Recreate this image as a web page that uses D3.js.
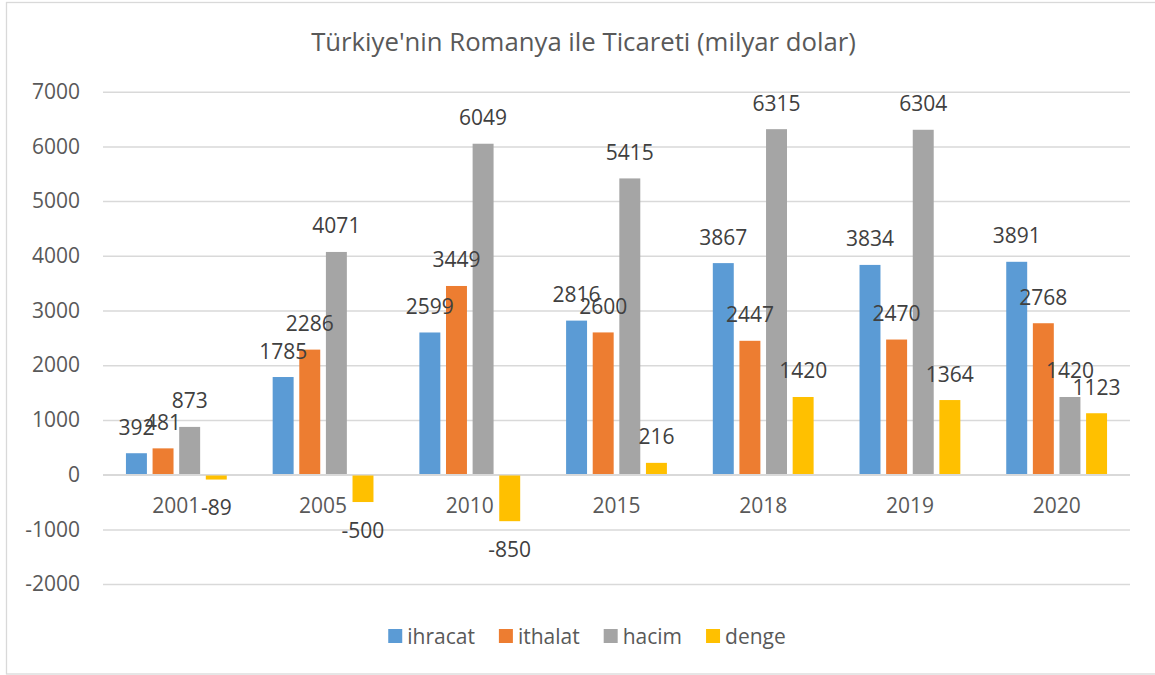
<!DOCTYPE html>
<html>
<head>
<meta charset="utf-8">
<script src="https://cdn.jsdelivr.net/npm/d3@7"></script>
<style>
  html, body { margin: 0; padding: 0; background: #fff; }
  svg { display: block; font-family: "Open Sans", sans-serif; }
</style>
</head>
<body>
<svg id="chart" width="1155" height="675"></svg>
<script>
const title = "Türkiye'nin Romanya ile Ticareti (milyar dolar)";
const categories = ["2001", "2005", "2010", "2015", "2018", "2019", "2020"];
const seriesNames = ["ihracat", "ithalat", "hacim", "denge"];
const ihracat = [392, 1785, 2599, 2816, 3867, 3834, 3891];
const ithalat = [481, 2286, 3449, 2600, 2447, 2470, 2768];
const hacim   = [873, 4071, 6049, 5415, 6315, 6304, 1420];
const denge   = [-89, -500, -850, 216, 1420, 1364, 1123];
const yTicks  = [-2000, -1000, 0, 1000, 2000, 3000, 4000, 5000, 6000, 7000];

const seriesValues = [ihracat, ithalat, hacim, denge];
const colors = ["#5B9BD5", "#ED7D31", "#A5A5A5", "#FFC000"];

const svg = d3.select("#chart");
const W = 1155, H = 675;
const plot = { left: 103, right: 1130, top: 91.7, bottom: 584.1 };
const fontSize = 21;

// chart border
svg.append("rect")
  .attr("x", 6.5).attr("y", 2.5)
  .attr("width", W + 10).attr("height", 671.5)
  .attr("fill", "#fff").attr("stroke", "#d9d9d9").attr("stroke-width", 1.3);

const y = d3.scaleLinear().domain([-2000, 7000]).range([plot.bottom, plot.top]);
const x0 = d3.scaleBand().domain(categories).range([plot.left, plot.right]).paddingInner(0).paddingOuter(0);

const gapWidth = 2.19, overlap = -0.27;
const bw = x0.bandwidth();
const barW = bw / (seriesNames.length - (seriesNames.length - 1) * overlap + gapWidth);
const innerP = -overlap / (1 - overlap);
const innerRange = barW * (1 - overlap) * (seriesNames.length - innerP);
const x1 = d3.scaleBand().domain(seriesNames)
  .range([(bw - innerRange) / 2, (bw + innerRange) / 2])
  .paddingInner(innerP).paddingOuter(0);

// y axis with gridlines
const yAxis = svg.append("g")
  .attr("transform", `translate(${plot.left},0)`)
  .call(d3.axisLeft(y).tickValues(yTicks).tickFormat(d => String(d))
    .tickSize(-(plot.right - plot.left)).tickPadding(23));
yAxis.select(".domain").remove();
yAxis.selectAll(".tick line").attr("stroke", "#d9d9d9").attr("stroke-width", 1.5);
yAxis.selectAll(".tick text")
  .attr("fill", "#595959").style("font-size", fontSize + "px")
  .style("font-family", "'Open Sans', sans-serif");

// bars
const data = [];
categories.forEach((c, i) => {
  seriesNames.forEach((s, j) => data.push({ cat: c, series: s, value: seriesValues[j][i], color: colors[j] }));
});

const barsG = svg.append("g");
barsG.selectAll("rect").data(data).enter().append("rect")
  .attr("x", d => x0(d.cat) + x1(d.series))
  .attr("width", x1.bandwidth())
  .attr("y", d => Math.min(y(d.value), y(0)))
  .attr("height", d => Math.abs(y(d.value) - y(0)))
  .attr("fill", d => d.color);

// x axis labels
const xAxis = svg.append("g")
  .attr("transform", `translate(0,${y(0)})`)
  .call(d3.axisBottom(x0).tickSize(0).tickPadding(23.6));
xAxis.select(".domain").remove();
xAxis.selectAll(".tick text")
  .attr("fill", "#595959").style("font-size", fontSize + "px")
  .style("font-family", "'Open Sans', sans-serif");

// zero line on top
svg.append("line")
  .attr("x1", plot.left).attr("x2", plot.right)
  .attr("y1", y(0)).attr("y2", y(0))
  .attr("stroke", "#d9d9d9").attr("stroke-width", 1.5);

// data labels
const digitHalf = fontSize * 0.357;
svg.append("g").selectAll("text").data(data).enter().append("text")
  .attr("x", d => x0(d.cat) + x1(d.series) + x1.bandwidth() / 2)
  .attr("y", d => d.value >= 0 ? y(d.value) - 26 + digitHalf : y(d.value) + 28 + digitHalf)
  .attr("text-anchor", "middle")
  .attr("fill", "#404040")
  .style("font-size", fontSize + "px")
  .text(d => String(d.value));

// title
const t = svg.append("text")
  .attr("x", 583.5).attr("y", 41)
  .attr("text-anchor", "middle")
  .attr("dominant-baseline", "central")
  .attr("fill", "#595959")
  .style("font-size", "24px")
  .text(title);
const tw = t.node().getComputedTextLength();
t.style("font-size", (24 * 545 / tw) + "px");

// legend
const legend = svg.append("g");
let lx = 0;
seriesNames.forEach((s, j) => {
  const g = legend.append("g");
  g.append("rect").attr("x", 0).attr("y", -7).attr("width", 14).attr("height", 14).attr("fill", colors[j]);
  const tx = g.append("text").attr("x", 19).attr("y", digitHalf).attr("fill", "#595959")
    .style("font-size", fontSize + "px").text(s);
  const w = 19 + tx.node().getComputedTextLength();
  g.attr("transform", `translate(${lx},0)`);
  lx += w + 24;
});
const legendW = lx - 24;
legend.attr("transform", `translate(${587 - legendW / 2},636)`);
</script>
</body>
</html>
